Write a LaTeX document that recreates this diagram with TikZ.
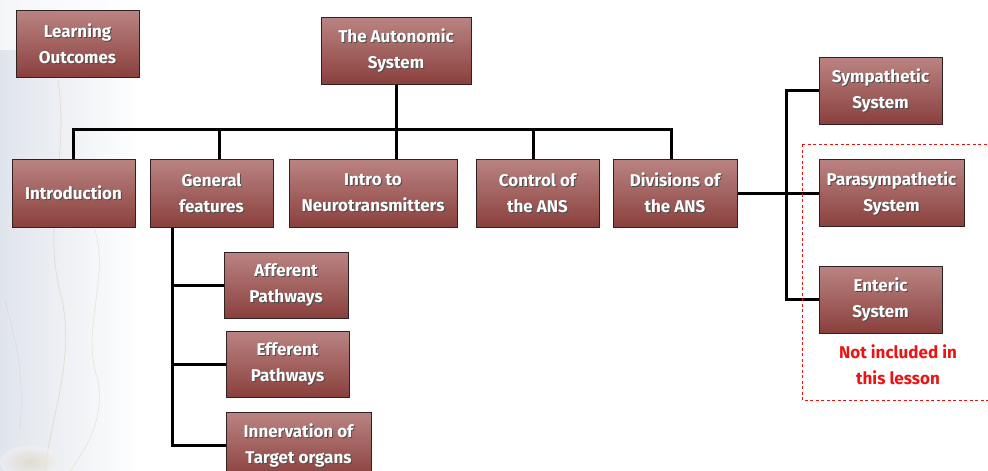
\documentclass[tikz,border=0pt]{standalone}
\usepackage{fontspec}
\setmainfont{Fira Sans}
\usetikzlibrary{calc}
\definecolor{boxtop}{RGB}{186,132,131}
\definecolor{boxbot}{RGB}{138,64,60}
\definecolor{boxline}{RGB}{48,34,34}
\definecolor{marble}{RGB}{224,228,236}
\definecolor{vein}{RGB}{222,206,176}
\definecolor{notered}{RGB}{235,20,20}
\pgfdeclarelayer{background}
\pgfdeclarelayer{backdrop}
\pgfsetlayers{backdrop,background,main}
\tikzset{
  mbox/.style={draw=boxline, line width=1pt, top color=boxtop, bottom color=boxbot, inner sep=0pt},
  mtext/.style={text=white, font=\bfseries\fontsize{17}{26}\selectfont, align=center, inner sep=0pt},
  mshade/.style={mtext, text=black!70},
  link/.style={line width=3pt, black, line cap=rect},
  note/.style={text=notered, font=\bfseries\fontsize{17}{26}\selectfont, align=center, inner sep=0pt},
  noteframe/.style={draw=notered, line width=1pt, dash pattern=on 3pt off 2.5pt}
}
% box with white caption and a dark offset copy behind the caption
\newcommand\mapbox[6]{%
  \node[mbox, minimum width=#4pt, minimum height=#5pt] (#1) at (#2,#3) {};
  \node[mshade] at ([shift={(1pt,-1pt)}]#1.center) {#6};
  \node[mtext] at (#1.center) {#6};
}
\begin{document}
\begin{tikzpicture}[x=1pt, y=-1pt]
\useasboundingbox (0,0) rectangle (988,471);
\clip (0,0) rectangle (988,471);

% marble backdrop along the left edge
\begin{pgfonlayer}{backdrop}
\fill[white] (0,0) rectangle (988,471);
\shade[left color=marble, right color=white] (0,0) rectangle (140,471);
\fill[white, opacity=0.7] (0,0) rectangle (140,50);
\draw[vein, line width=0.7pt, opacity=0.6]
  (58,80) .. controls (70,160) and (40,220) .. (62,300)
  .. controls (75,360) and (50,420) .. (45,471);
\draw[vein, line width=0.6pt, opacity=0.5]
  (95,230) .. controls (110,280) and (80,330) .. (98,380)
  .. controls (105,420) and (85,450) .. (70,471);
\draw[black!20, line width=0.5pt, opacity=0.5]
  (5,300) .. controls (15,340) and (25,370) .. (20,430);
\shade[inner color=vein, outer color=marble!40, opacity=0.5] (30,462) ellipse (30 and 16);
\end{pgfonlayer}

% boxes
\mapbox{learn}{77.5}{43.5}{123}{67}{Learning\\Outcomes}
\mapbox{auto}{396}{50.5}{150}{67}{The Autonomic\\System}
\mapbox{intro}{73.5}{193}{123}{68}{Introduction}
\mapbox{general}{211.5}{193}{123}{68}{General\\features}
\mapbox{neuro}{373}{193}{168}{68}{Intro to\\Neurotransmitters}
\mapbox{control}{537.5}{193}{123}{68}{Control of\\the ANS}
\mapbox{divisions}{675}{193}{124}{68}{Divisions of\\the ANS}
\mapbox{symp}{880.5}{90.5}{123}{67}{Sympathetic\\System}
\mapbox{para}{891.5}{193}{145}{67}{Parasympathetic\\System}
\mapbox{enteric}{880.5}{299.5}{123}{67}{Enteric\\System}
\mapbox{afferent}{286}{285}{124}{66}{Afferent\\Pathways}
\mapbox{efferent}{287.5}{364}{123}{66}{Efferent\\Pathways}
\mapbox{innerv}{298.5}{445}{145}{66}{Innervation of\\Target organs}

% junction points of the tree
\coordinate (jintro) at (73,129);
\coordinate (jgen) at (219,129);
\coordinate (jneuro) at (396,129);
\coordinate (jctrl) at (533,129);
\coordinate (jdiv) at (671,129);
\coordinate (gx) at (172,0);
\coordinate (dx) at (786,0);

\begin{pgfonlayer}{background}
\draw[link] (auto.south) -- (auto.south |- jintro);
\draw[link] (jintro) -- (jdiv);
\draw[link] (jintro) -- (jintro |- intro.north);
\draw[link] (jgen) -- (jgen |- general.north);
\draw[link] (jneuro) -- (jneuro |- neuro.north);
\draw[link] (jctrl) -- (jctrl |- control.north);
\draw[link] (jdiv) -- (jdiv |- divisions.north);
% general features branch
\draw[link] (gx |- general.south) -- (gx |- innerv.west) -- (innerv.west);
\draw[link] (gx |- afferent.west) -- (afferent.west);
\draw[link] (gx |- efferent.west) -- (efferent.west);
% divisions branch
\draw[link] (divisions.east) -- (para.west);
\draw[link] (symp.west) -- (dx |- symp.west) -- (dx |- enteric.west) -- (enteric.west);
\end{pgfonlayer}

% outline of the part left out of this lesson
\coordinate (frameTL) at (802,144);
\coordinate (frameBR) at (993,400);
\draw[noteframe] (frameTL) rectangle (frameBR);
\node[note] (notetext) at (898,365) {Not included in\\this lesson};
\end{tikzpicture}
\end{document}
